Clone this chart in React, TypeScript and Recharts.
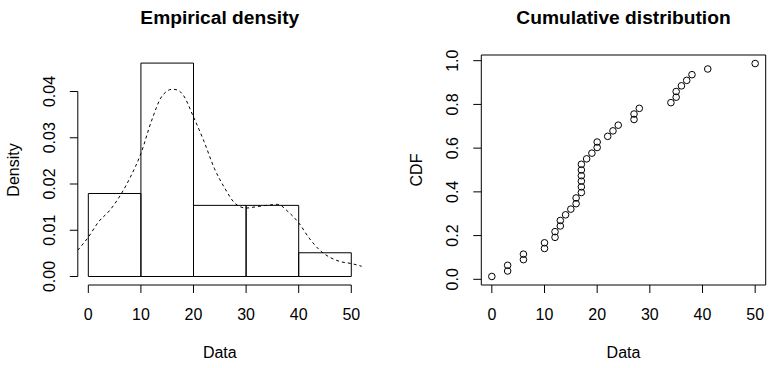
import React from "react";
import {
  ComposedChart,
  ScatterChart,
  Line,
  Scatter,
  XAxis,
  YAxis,
  ReferenceArea,
  ReferenceLine,
} from "recharts";

// ---- Data ----
const binStarts = [0, 10, 20, 30, 40];
const binEnds = [10, 20, 30, 40, 50];
const binDensities = [0.01795, 0.04615, 0.01538, 0.01538, 0.00513];

const curveX = [-2, 0, 2, 4, 6, 8, 10, 12, 14, 16, 17, 18, 20, 22, 24, 26, 28, 30, 32, 34, 36, 38, 40, 42, 44, 46, 48, 50, 52];
const curveY = [0.0057, 0.0085, 0.0119, 0.0142, 0.0174, 0.0215, 0.0266, 0.0336, 0.039, 0.0405, 0.0403, 0.0393, 0.0345, 0.0292, 0.0233, 0.019, 0.0157, 0.0148, 0.0151, 0.0154, 0.0156, 0.014, 0.0116, 0.0083, 0.0057, 0.0041, 0.0032, 0.0028, 0.0022];

const sortedData = [0, 3, 3, 6, 6, 10, 10, 12, 12, 13, 13, 14, 15, 16, 16, 17, 17, 17, 17, 17, 17, 18, 19, 20, 20, 22, 23, 24, 27, 27, 28, 34, 35, 35, 36, 37, 38, 41, 50];
const cdfValues = [0.013, 0.038, 0.064, 0.09, 0.115, 0.141, 0.167, 0.192, 0.218, 0.244, 0.269, 0.295, 0.321, 0.346, 0.372, 0.397, 0.423, 0.449, 0.474, 0.5, 0.526, 0.551, 0.577, 0.603, 0.628, 0.654, 0.679, 0.705, 0.731, 0.756, 0.782, 0.808, 0.833, 0.859, 0.885, 0.91, 0.936, 0.962, 0.987];

const xTicks = [0, 10, 20, 30, 40, 50];
const densityTicks = [0, 0.01, 0.02, 0.03, 0.04];
const densityTickLabels = ["0.00", "0.01", "0.02", "0.03", "0.04"];
const cdfTicks = [0, 0.2, 0.4, 0.6, 0.8, 1.0];
const cdfTickLabels = ["0.0", "0.2", "0.4", "0.6", "0.8", "1.0"];

const titles = ["Empirical density", "Cumulative distribution"];
const xTitle = "Data";
const yTitles = ["Density", "CDF"];

const curveData = curveX.map((x, i) => ({ x, y: curveY[i] }));
const cdfData = sortedData.map((x, i) => ({ x, y: cdfValues[i] }));

const FONT = "'Liberation Sans', Arial, Helvetica, sans-serif";

const XTick = (props: any) => {
  const { x, payload } = props;
  return (
    <text x={x} y={319.5} textAnchor="middle" fontSize={16} fontFamily={FONT} fill="#000">
      {payload.value}
    </text>
  );
};

const makeYTick = (labels: string[], ticks: number[], baseX: number) => (props: any) => {
  const { y, payload } = props;
  const idx = ticks.findIndex((t) => Math.abs(t - payload.value) < 1e-9);
  const label = idx >= 0 ? labels[idx] : String(payload.value);
  return (
    <text
      x={0}
      y={0}
      transform={`translate(${baseX},${y}) rotate(-90)`}
      textAnchor="middle"
      fontSize={16}
      fontFamily={FONT}
      fill="#000"
    >
      {label}
    </text>
  );
};

const LeftYTick = makeYTick(densityTickLabels, densityTicks, 54.7);
const RightYTick = makeYTick(cdfTickLabels, cdfTicks, 68.2);

const OpenCircle = (props: any) => {
  const { cx, cy } = props;
  return <circle cx={cx} cy={cy} r={3.3} fill="none" stroke="#000" strokeWidth={1} />;
};

export default function App() {
  return (
    <div style={{ position: "absolute", left: 0, top: 0, width: 779, height: 368, background: "#fff" }}>
      <div style={{ position: "absolute", left: 0, top: 0 }}>
        <ComposedChart
          width={390}
          height={368}
          data={curveData}
          margin={{ top: 55, right: 28.2, bottom: 0, left: 0 }}
        >
          <XAxis
            type="number"
            dataKey="x"
            domain={[-2, 52]}
            ticks={xTicks}
            allowDataOverflow
            axisLine={false}
            tickLine={{ stroke: "#000", strokeWidth: 1 }}
            tickSize={8}
            height={83}
            tick={<XTick />}
            interval={0}
          />
          <YAxis
            type="number"
            domain={[-0.00184, 0.0479]}
            ticks={densityTicks}
            allowDataOverflow
            axisLine={false}
            tickLine={{ stroke: "#000", strokeWidth: 1 }}
            tickSize={8}
            width={77.8}
            tick={<LeftYTick />}
            interval={0}
          />
          {binStarts.map((s, i) => (
            <ReferenceArea
              key={i}
              x1={s}
              x2={binEnds[i]}
              y1={0}
              y2={binDensities[i]}
              fill="none"
              fillOpacity={0}
              stroke="#000"
              strokeWidth={1}
              strokeOpacity={1}
              ifOverflow="visible"
            />
          ))}
          <ReferenceLine
            segment={[{ x: -2, y: densityTicks[0] }, { x: -2, y: densityTicks[densityTicks.length - 1] }]}
            stroke="#000"
            strokeWidth={1}
            ifOverflow="visible"
          />
          <ReferenceLine
            segment={[{ x: xTicks[0], y: -0.00184 }, { x: xTicks[xTicks.length - 1], y: -0.00184 }]}
            stroke="#000"
            strokeWidth={1}
            ifOverflow="visible"
          />
          <Line
            type="monotone"
            dataKey="y"
            stroke="#000"
            strokeWidth={1}
            strokeDasharray="3 3"
            dot={false}
            activeDot={false}
            isAnimationActive={false}
          />
        </ComposedChart>
      </div>
      <div style={{ position: "absolute", left: 390, top: 0 }}>
        <ScatterChart width={389} height={368} margin={{ top: 55, right: 13.3, bottom: 0, left: 0 }}>
          <XAxis
            type="number"
            dataKey="x"
            domain={[-2, 52]}
            ticks={xTicks}
            allowDataOverflow
            axisLine={false}
            tickLine={{ stroke: "#000", strokeWidth: 1 }}
            tickSize={8}
            height={83}
            tick={<XTick />}
            interval={0}
          />
          <YAxis
            type="number"
            dataKey="y"
            domain={[-0.026, 1.026]}
            ticks={cdfTicks}
            allowDataOverflow
            axisLine={false}
            tickLine={{ stroke: "#000", strokeWidth: 1 }}
            tickSize={8}
            width={91.3}
            tick={<RightYTick />}
            interval={0}
          />
          <ReferenceArea
            x1={-2}
            x2={52}
            y1={-0.026}
            y2={1.026}
            fill="none"
            fillOpacity={0}
            stroke="#000"
            strokeWidth={1}
            strokeOpacity={1}
            ifOverflow="visible"
          />
          <Scatter data={cdfData} shape={<OpenCircle />} isAnimationActive={false} />
        </ScatterChart>
      </div>
      <svg
        width={779}
        height={368}
        style={{ position: "absolute", left: 0, top: 0, pointerEvents: "none" }}
      >
        <text x={219.8} y={23.8} textAnchor="middle" fontSize={19.2} fontWeight="bold" fontFamily={FONT} fill="#000">
          {titles[0]}
        </text>
        <text x={623.5} y={23.8} textAnchor="middle" fontSize={19.2} fontWeight="bold" fontFamily={FONT} fill="#000">
          {titles[1]}
        </text>
        <text x={219.8} y={358} textAnchor="middle" fontSize={16} fontFamily={FONT} fill="#000">
          {xTitle}
        </text>
        <text x={623.5} y={358} textAnchor="middle" fontSize={16} fontFamily={FONT} fill="#000">
          {xTitle}
        </text>
        <text
          x={0}
          y={0}
          transform={`translate(18.7,170) rotate(-90)`}
          textAnchor="middle"
          fontSize={16}
          fontFamily={FONT}
          fill="#000"
        >
          {yTitles[0]}
        </text>
        <text
          x={0}
          y={0}
          transform={`translate(421.7,170) rotate(-90)`}
          textAnchor="middle"
          fontSize={16}
          fontFamily={FONT}
          fill="#000"
        >
          {yTitles[1]}
        </text>
      </svg>
    </div>
  );
}
